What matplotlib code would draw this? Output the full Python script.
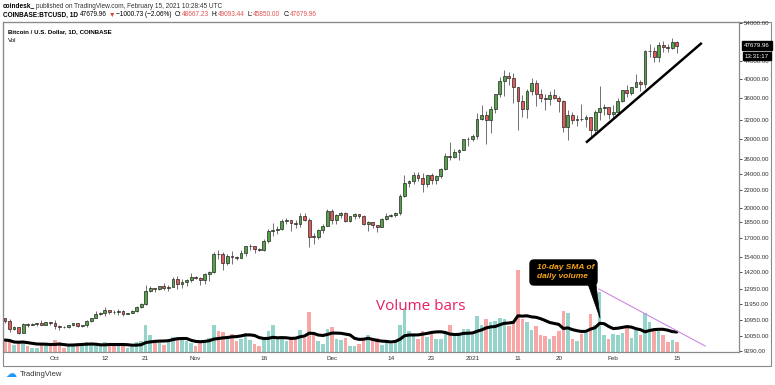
import numpy as np
import pandas as pd
import matplotlib
matplotlib.use('Agg')
import matplotlib.pyplot as plt
import matplotlib.dates as mdates
from matplotlib.patches import Rectangle, FancyBboxPatch, Polygon
from matplotlib.transforms import IdentityTransform
from matplotlib.ticker import FixedLocator, NullLocator

plt.rcParams['font.family'] = ['Liberation Sans', 'DejaVu Sans']

# daily candles, COINBASE:BTCUSD, 2020-09-20 .. 2021-02-15
dates = pd.date_range('2020-09-20', '2021-02-15', freq='D')

opens = [
    11080, 10920, 10420, 10530, 10240, 10740, 10690, 10730, 10770, 10690, 10840,
    10780, 10620, 10570, 10550, 10670, 10790, 10600, 10670, 10920, 11050, 11300, 11380, 11540, 11430, 11420, 11500,
    11320, 11370, 11510, 11750, 11920, 12820, 12980, 12930, 13120, 13030, 13070, 13650, 13280, 13460, 13560,
    13800, 13760, 13560, 14030, 14150, 15590, 15580, 14840, 15480, 15330, 15310, 15700, 16290, 16330, 16070,
    15960, 16720, 17660, 17800, 17820, 18680, 18710, 18420, 18370, 19160, 18730, 17150, 17140, 17720, 18180,
    19700, 18790, 19220, 19450, 18650, 19150, 19360, 19170, 18320, 18550, 18250, 18040, 18810, 19170, 19270,
    19440, 21350, 22830, 23130, 23860, 23480, 22720, 23820, 23240, 23730, 24700, 26490, 26280, 27040, 27360, 28880,
    28990, 29400, 32200, 33000, 31990, 33990, 36800, 39460, 40670, 40240, 38240, 35550, 34050, 37390, 39150,
    36830, 36070, 35820, 36630, 36000, 35470, 30830, 33010, 32100, 32280, 32260, 32500, 30420, 33400, 34270, 34320,
    33110, 33540, 35510, 37670, 36980, 38290, 39260, 38900, 46400, 46480, 44850, 48000, 47400, 47190, 48667.23,
]
highs = [
    11090, 10990, 10580, 10540, 10790, 10770, 10800, 10800, 10950, 10860, 10850,
    10930, 10660, 10600, 10690, 10800, 10800, 10690, 10960, 11100, 11490, 11440, 11720, 11560, 11550, 11620, 11540,
    11400, 11530, 11820, 12030, 13220, 13180, 13030, 13160, 13340, 13250, 13790, 13860, 13640, 13680, 14100,
    13890, 13830, 14070, 14260, 15770, 15970, 15770, 15650, 15850, 15470, 15960, 16340, 16480, 16340, 16140,
    16880, 17860, 18480, 18150, 18800, 18960, 18760, 18770, 19420, 19490, 18920, 17470, 17880, 18340, 19870,
    19920, 19340, 19570, 19540, 19180, 19420, 19400, 19290, 18640, 18570, 18290, 18950, 19410, 19340, 19570,
    21560, 23800, 23290, 24200, 24300, 24100, 23830, 24100, 23800, 24790, 26870, 28420, 27440, 27400, 28990, 29300,
    29680, 33300, 34790, 33600, 34500, 36940, 40400, 41950, 41380, 41350, 38260, 36630, 37850, 40100, 39750,
    37950, 36850, 37450, 37850, 36420, 35600, 33830, 33460, 32950, 34880, 32940, 32560, 33800, 38530, 34880, 34330,
    34700, 35990, 37700, 38700, 38350, 40950, 39730, 46800, 48200, 47350, 48700, 48980, 48150, 49710, 49093.44,
]
lows = [
    10760, 10290, 10360, 10140, 10200, 10560, 10660, 10620, 10640, 10650, 10680,
    10440, 10380, 10500, 10520, 10630, 10530, 10560, 10530, 10830, 11050, 11280, 11200, 11300, 11290, 11260, 11220,
    11310, 11360, 11420, 11690, 11900, 12710, 12730, 12900, 12900, 12780, 13060, 12920, 12990, 13140, 13430,
    13620, 13200, 13300, 13530, 14100, 15200, 14350, 14720, 14810, 15080, 15290, 15460, 15970, 15710, 15870,
    15870, 16550, 17230, 17350, 17760, 18360, 17640, 18000, 18030, 18600, 16200, 16450, 16890, 17520, 18180,
    18320, 18330, 18930, 18570, 18500, 18860, 18900, 18200, 17650, 17910, 17570, 18020, 18720, 19000, 19050,
    19300, 21230, 22350, 22760, 23070, 21820, 22380, 22700, 22720, 23440, 24500, 25830, 26120, 25830, 27320, 27850,
    28680, 28950, 32000, 28130, 29900, 33290, 36300, 36500, 38720, 35110, 30420, 32530, 32380, 36700, 34540,
    35360, 33850, 34800, 35900, 33400, 30070, 28800, 31400, 31000, 31950, 30840, 29240, 29900, 31990, 32850, 32300,
    32300, 33420, 35370, 36200, 36650, 38220, 37370, 37990, 45030, 43760, 43800, 46300, 46200, 47060, 45850.00,
]
closes = [
    10920, 10420, 10530, 10240, 10740, 10690, 10730, 10770, 10690, 10840, 10780,
    10620, 10570, 10550, 10670, 10790, 10600, 10670, 10920, 11050, 11300, 11380, 11540, 11430, 11420, 11500, 11320,
    11370, 11510, 11750, 11920, 12820, 12980, 12930, 13120, 13030, 13070, 13650, 13280, 13460, 13560, 13800,
    13760, 13560, 14030, 14150, 15590, 15580, 14840, 15480, 15330, 15310, 15700, 16290, 16330, 16070, 15960,
    16720, 17660, 17800, 17820, 18680, 18710, 18420, 18370, 19160, 18730, 17150, 17140, 17720, 18180, 19700,
    18790, 19220, 19450, 18650, 19150, 19360, 19170, 18320, 18550, 18250, 18040, 18810, 19170, 19270, 19440,
    21350, 22830, 23130, 23860, 23480, 22720, 23820, 23240, 23730, 24700, 26490, 26280, 27040, 27360, 28880, 28990,
    29400, 32200, 33000, 31990, 33990, 36800, 39460, 40670, 40240, 38240, 35550, 34050, 37390, 39150, 36830,
    36070, 35820, 36630, 36000, 35470, 30830, 33010, 32100, 32280, 32260, 32500, 30420, 33400, 34270, 34320, 33110,
    33540, 35510, 37670, 36980, 38290, 39260, 38900, 46400, 46480, 44850, 48000, 47400, 47190, 48667.23, 47679.96,
]
# daily volume, thousand BTC
volume = [
    12, 11, 7, 9, 11, 6, 4, 4, 7, 7, 9,
    12, 10, 4, 6, 7, 7, 6, 10, 9, 7, 6, 10, 7, 6, 6, 8, 4, 5, 10, 11, 27, 17, 12, 9, 7, 11, 15, 14, 12, 11, 9,
    6, 9, 12, 14, 27, 21, 20, 16, 18, 11, 13, 19, 12, 8, 6, 12, 21, 27, 13, 13, 11, 13, 14, 22, 14, 40, 19, 11, 8, 23,
    25, 13, 12, 14, 6, 6, 8, 13, 17, 12, 14, 7, 9, 8, 12, 27, 43, 21, 17, 13, 21, 15, 19, 13, 13, 20, 27, 17, 18, 23, 23,
    17, 36, 27, 33, 30, 31, 34, 33, 26, 30, 82, 33, 30, 22, 26, 17, 16, 13, 16, 21, 41, 39, 13, 11, 18, 19, 38, 27, 60, 17, 13,
    18, 17, 19, 26, 14, 22, 17, 39, 30, 22, 21, 17, 10, 12, 10,
]

price_ticks = [9290, 10050, 10950, 11950, 12950, 14200, 15400, 17000, 18500, 20000,
               22000, 24000, 26000, 29000, 32000, 36000, 40000, 44000, 54000]
date_ticks = ['2020-10-01', '2020-10-12', '2020-10-21', '2020-11-01', '2020-11-16', '2020-12-01',
              '2020-12-14', '2020-12-23', '2021-01-01', '2021-01-11', '2021-01-20', '2021-02-01', '2021-02-15']
date_labels = ['Oct', '12', '21', 'Nov', '16', 'Dec', '14', '23', '2021', '11', '20', 'Feb', '15']

W, H = 775, 385
fig = plt.figure(figsize=(W / 100, H / 100), dpi=100)
px = IdentityTransform()
renderer = fig.canvas.get_renderer()

o = np.array(opens); h = np.array(highs); l = np.array(lows); c = np.array(closes)
vol = pd.Series(volume, index=dates)
sma = vol.rolling(10, min_periods=1).mean()
xd = mdates.date2num(dates)
up = c >= o

ax = fig.add_axes([3 / W, 1 - 352 / H, 736 / W, 330 / H])
ax2 = ax.twinx()
ax.set_zorder(2)
ax2.set_zorder(1)
ax.patch.set_visible(False)

# volume + 10-day SMA
ax2.bar(xd, vol.values, width=0.78, color=np.where(up, '#94d4cb', '#f7a8a6'), linewidth=0)
ax2.plot(xd, sma.values, color='black', lw=2.2, solid_capstyle='round')
ax2.plot(mdates.date2num([pd.Timestamp('2021-01-28 20:00'), pd.Timestamp('2021-02-21 06:00')]),
         [63, 6], color='#cc88e0', lw=0.8)
ax2.set_ylim(0, 330)
ax2.set_yticks([])

# candles
ax.vlines(xd, l, h, colors='#5a5a5a', linewidth=0.6, zorder=2)
ax.bar(xd, np.maximum(np.abs(c - o), 15), bottom=np.minimum(o, c), width=0.62,
       color=np.where(up, '#53a447', '#e05b5b'), edgecolor='#262626', linewidth=0.5, zorder=3)

# trend line
ax.plot(mdates.date2num([pd.Timestamp('2021-01-26 05:00'), pd.Timestamp('2021-02-20 07:00')]),
        [28520, 48290], color='black', lw=1.8, zorder=4)

ax.set_yscale('log')
ax.set_ylim(9225, 54260)
ax.set_xlim(xd[0] - 0.44, xd[0] + 161.7)
ax.yaxis.tick_right()
ax.yaxis.set_major_locator(FixedLocator(price_ticks))
ax.yaxis.set_minor_locator(NullLocator())
ax.set_yticklabels([f'{v:.2f}' for v in price_ticks])
ax.set_xticks(mdates.date2num(pd.to_datetime(date_ticks)))
ax.set_xticklabels(date_labels)
ax.tick_params(axis='y', length=2, width=0.6, pad=1.5, labelsize=4.4, colors='#333333')
ax.tick_params(axis='x', length=0, pad=3, labelsize=4.6, colors='#333333')
for a in (ax, ax2):
    for s in a.spines.values():
        s.set_color('#8a8a8a')
        s.set_linewidth(0.8)

# outer frame
fig.add_artist(Rectangle((3, H - 366), 768, 344, transform=px, fill=False, ec='#8a8a8a', lw=0.8))


def text_row(y, pieces, x=3, fs=4.7):
    # lay pieces left to right, each starting where the previous ended
    for s, gap, kw in pieces:
        x += gap
        t = fig.text(x, H - y, s, transform=px, fontsize=fs, va='center', **kw)
        x = t.get_window_extent(renderer).x1


red = {'color': '#e05050'}
text_row(6, [('coindesk_', 0, {'weight': 'bold'}),
             ('published on TradingView.com, February 15, 2021 10:28:45 UTC', 1, {'color': '#333333'})])
text_row(15, [('COINBASE:BTCUSD, 1D', 0, {'weight': 'bold'}),
              ('47679.96', 2, {}), ('▼', 1.5, {'color': '#e53935'}),
              ('\u22121000.73 (\u22122.06%)', 1.5, {}),
              ('O:', 3, {}), ('48667.23', 0, red),
              ('H:', 3, {}), ('49093.44', 0, red),
              ('L:', 3, {}), ('45850.00', 0, red),
              ('C:', 3, {}), ('47679.96', 0, red)])
fig.text(8, H - 32, 'Bitcoin / U.S. Dollar, 1D, COINBASE', transform=px, fontsize=4.4, weight='bold', va='center')
fig.text(8, H - 41, 'Vol', transform=px, fontsize=4.4, va='center')

# last price marks on the price scale
fig.text(757, H - 45.5, '47679.96', transform=px, fontsize=4.4, color='white', ha='center', va='center',
         bbox=dict(boxstyle='square,pad=0.3', fc='black', ec='black'), zorder=6)
fig.text(757, H - 56, '13:31:17', transform=px, fontsize=4.4, color='white', ha='center', va='center',
         bbox=dict(boxstyle='square,pad=0.3', fc='black', ec='black'), zorder=6)

# annotations
fig.text(421, H - 307, 'Volume bars', transform=px, fontsize=11, color='#e91e63',
         family=['Open Sans', 'DejaVu Sans'], ha='center', va='center')
fig.add_artist(FancyBboxPatch((530, H - 285), 67, 25, boxstyle='round,pad=0,rounding_size=4',
                              transform=px, fc='black', ec='black', zorder=5))
fig.add_artist(Polygon([(588, H - 284), (596, H - 284), (600, H - 318)], closed=True,
                       transform=px, fc='black', ec='black', lw=0.5, zorder=5))
fig.text(537, H - 267.5, '10-day SMA of', transform=px, fontsize=6, color='#f5a31a',
         weight='bold', style='italic', va='center', zorder=6)
fig.text(537, H - 276.5, 'daily volume', transform=px, fontsize=6, color='#f5a31a',
         weight='bold', style='italic', va='center', zorder=6)

# footer
fig.text(11, H - 374, '\u2601', transform=px, fontsize=8, color='#2196f3', ha='center', va='center',
         family=['DejaVu Sans'])
fig.text(20, H - 374.5, 'TradingView', transform=px, fontsize=5.5, color='#333333', va='center')

fig.savefig('out.png', dpi=100)
